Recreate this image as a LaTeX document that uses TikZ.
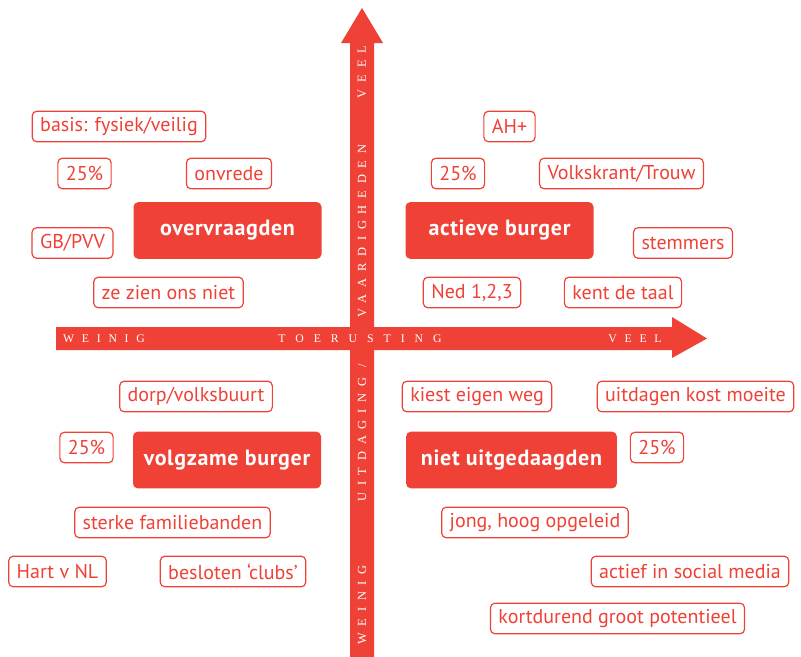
\documentclass[tikz,border=0pt]{standalone}
\usepackage{fontspec}
\setmainfont{PT Sans}
\newfontfamily\segfont[LetterSpace=3]{PT Sans}
\newfontfamily\hasfont[LetterSpace=66]{Liberation Serif}
\newfontfamily\haswijd[LetterSpace=85]{Liberation Serif}
\newfontfamily\vasfont[LetterSpace=55]{Liberation Serif}
\usepackage{tikz}
\usetikzlibrary{positioning}
\definecolor{rood}{HTML}{EF4136}
\tikzstyle{kenmerk} = [draw=rood,text=rood,fill=white,rounded corners=3.5pt,line width=0.9pt,minimum height=23pt,inner xsep=6pt,inner ysep=0pt,font=\fontsize{15}{17}\selectfont]
\tikzstyle{segment} = [fill=rood,text=white,rounded corners=3.5pt,minimum width=141pt,minimum height=42.5pt,font=\segfont\fontsize{16.5}{18}\selectfont\bfseries]
\tikzstyle{hastekst} = [text=white,inner sep=0pt,font=\hasfont\fontsize{8.8}{9}\selectfont]
\tikzstyle{vastekst} = [text=white,inner sep=0pt,rotate=90,font=\vasfont\fontsize{9.3}{9}\selectfont]

\begin{document}
\begin{tikzpicture}[x=0.75pt,y=-0.75pt]
      \useasboundingbox (0,0) rectangle (801,657);

      % assen
      \fill[rood] (350,657) -- (350,43) -- (341,43) -- (362,8) -- (383,43) -- (374,43) -- (374,657) -- cycle;
      \fill[rood] (56,327) -- (672,327) -- (672,317) -- (707,338.5) -- (672,358) -- (672,350) -- (56,350) -- cycle;

      \node (hw)[hastekst] at (104,338.5) {WEINIG};
      \node (ht)[hastekst,font=\haswijd\fontsize{8.8}{9}\selectfont] at (360,338.5) {TOERUSTING};
      \node (hv)[hastekst] at (635,338.5) {VEEL};
      \node (vv)[vastekst] at (362,72) {VEEL};
      \node (va)[vastekst] at (362,231) {VAARDIGHEDEN};
      \node (vu)[vastekst] at (362,433) {UITDAGING /};
      \node (vw)[vastekst] at (362,605) {WEINIG};

      % kwadranten
      \node (ov)[segment] at (227.5,230.5) {overvraagden};
      \node (ab)[segment] at (499.5,230.5) {actieve burger};
      \node (vb)[segment] at (227,460) {volgzame burger};
      \node (nu)[segment,minimum width=158pt] at (511.5,460) {niet uitgedaagden};

      % linksboven
      \node (basis)[kenmerk] at (119,126.5) {basis: fysiek/veilig};
      \node (p1)[kenmerk]    at (84.5,173.5) {25\%};
      \node (onv)[kenmerk]   at (229,173.5) {onvrede};
      \node (gb)[kenmerk]    at (72.5,243) {GB/PVV};
      \node (zien)[kenmerk]  at (168.5,292.5) {ze zien ons niet};

      % rechtsboven
      \node (ah)[kenmerk]    at (509.5,126.5) {AH+};
      \node (p2)[kenmerk]    at (458,173.5) {25\%};
      \node (vk)[kenmerk]    at (621.5,173.5) {Volkskrant/Trouw};
      \node (stem)[kenmerk]  at (683,243) {stemmers};
      \node (ned)[kenmerk]   at (472,292.5) {Ned 1,2,3};
      \node (taal)[kenmerk]  at (623,292.5) {kent de taal};

      % linksonder
      \node (dorp)[kenmerk]  at (196,396.5) {dorp/volksbuurt};
      \node (p3)[kenmerk]    at (86.5,447.5) {25\%};
      \node (fam)[kenmerk]   at (172.5,522.5) {sterke familiebanden};
      \node (hart)[kenmerk]  at (57.5,571.5) {Hart v NL};
      \node (club)[kenmerk]  at (233,571.5) {besloten `clubs'};

      % rechtsonder
      \node (weg)[kenmerk]   at (477,396.5) {kiest eigen weg};
      \node (moeite)[kenmerk] at (695.5,396.5) {uitdagen kost moeite};
      \node (p4)[kenmerk]    at (657,447.5) {25\%};
      \node (jong)[kenmerk]  at (535,522.5) {jong, hoog opgeleid};
      \node (media)[kenmerk] at (690,571.5) {actief in social media};
      \node (kort)[kenmerk]  at (617.5,618.5) {kortdurend groot potentieel};
\end{tikzpicture}
\end{document}
